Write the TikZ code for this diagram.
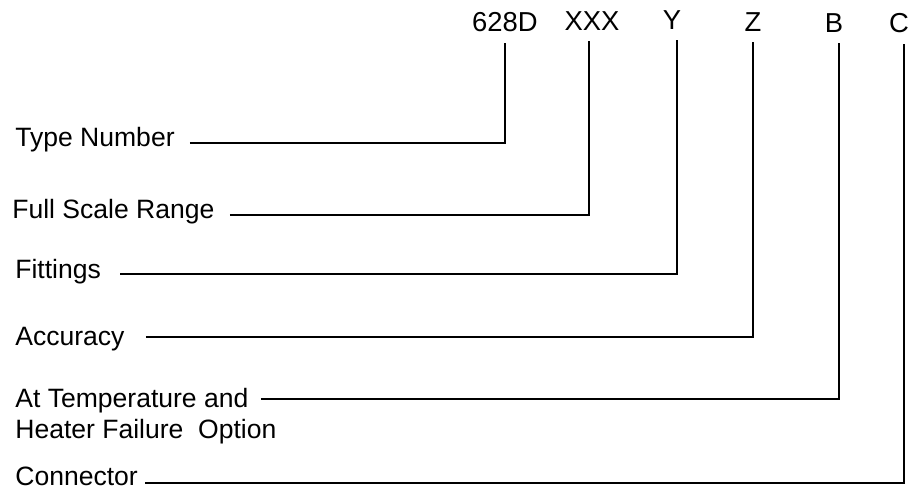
\documentclass[tikz,border=0pt]{standalone}
\usepackage{fontspec}
\setmainfont{Liberation Sans}
\usetikzlibrary{positioning}

\begin{document}
\begin{tikzpicture}[
    lbl/.style={anchor=base west, inner sep=0pt, font=\fontsize{15.1}{18}\selectfont},
    code/.style={anchor=base, inner xsep=0pt, inner ysep=0.2cm, font=\fontsize{15.6}{18}\selectfont},
    lead/.style={line width=0.6pt, black},
]
\useasboundingbox (0,0) rectangle (18.28,-9.82);

% model code fields
\node[code] (n628) at (10.10,-0.64) {628D};
\node[code] (nxxx) at (11.84,-0.62) {XXX};
\node[code] (ny)   at (13.44,-0.60) {Y};
\node[code] (nz)   at (15.06,-0.64) {Z};
\node[code] (nb)   at (16.68,-0.66) {B};
\node[code] (nc)   at (17.98,-0.66) {C};

% descriptions
\node[lbl] (type)  at (0.30,-2.94) {Type Number};
\node[lbl] (range) at (0.24,-4.36) {Full Scale Range};
\node[lbl] (fit)   at (0.30,-5.56) {Fittings};
\node[lbl] (acc)   at (0.30,-6.90) {Accuracy};
\node[lbl] (temp)  at (0.30,-8.14) {At Temperature and};
\node[lbl] (heat)  at ([yshift=-0.62cm]temp.base west) {Heater Failure\ \ Option};
\node[lbl] (conn)  at (0.30,-9.70) {Connector};

% leader lines
\foreach \l/\c/\gx/\gy/\dx in {type/n628/0.30/0.08/0, range/nxxx/0.30/0.06/-0.06,
                               fit/ny/0.38/0.08/0.10, acc/nz/0.42/0.16/0,
                               temp/nb/0.24/0.16/0.10, conn/nc/0.14/0.04/0.10}{
    \draw[lead] ([xshift=\gx cm, yshift=\gy cm]\l.base east) -| ([xshift=\dx cm]\c.south);
}

\end{tikzpicture}
\end{document}
